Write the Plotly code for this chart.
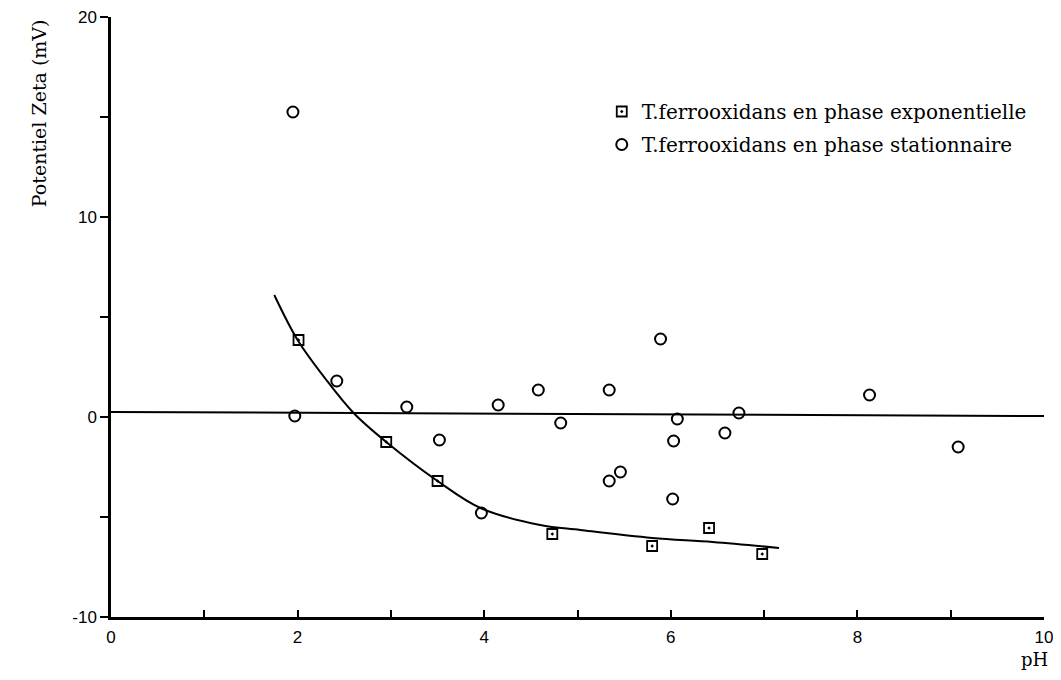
import plotly.graph_objects as go

# T. ferrooxidans, exponential phase (squares)
ph_expo = [2.01, 2.95, 3.50, 4.73, 5.80, 6.41, 6.98]
zeta_expo = [3.85, -1.25, -3.2, -5.85, -6.45, -5.55, -6.85]

# T. ferrooxidans, stationary phase (circles)
ph_stat = [1.95, 1.97, 2.42, 3.17, 3.52, 3.97, 4.15, 4.58, 4.82, 5.34, 5.34, 5.46,
           5.89, 6.07, 6.03, 6.02, 6.58, 6.73, 8.13, 9.08]
zeta_stat = [15.25, 0.05, 1.8, 0.5, -1.15, -4.8, 0.6, 1.35, -0.3, 1.35, -3.2, -2.75,
             3.9, -0.1, -1.2, -4.1, -0.8, 0.2, 1.1, -1.5]

# hand-drawn fitted curve through the squares
curve_x = [1.75, 2.0, 2.3, 2.6, 2.95, 3.5, 3.96, 4.6, 5.03, 5.8, 6.45, 7.16]
curve_y = [6.1, 3.85, 1.9, 0.2, -1.25, -3.2, -4.55, -5.4, -5.65, -6.05, -6.25, -6.55]

# near-horizontal line for the stationary phase
flat_x = [0, 10]
flat_y = [0.25, 0.05]

x_ticks = list(range(0, 11))
x_labels = [str(v) if v % 2 == 0 else "" for v in x_ticks]
y_ticks = [-10, -5, 0, 5, 10, 15, 20]
y_labels = ["-10", "", "0", "", "10", "", "20"]

fig = go.Figure()

fig.add_trace(go.Scatter(x=flat_x, y=flat_y, mode="lines",
                         line=dict(color="black", width=2), showlegend=False))
fig.add_trace(go.Scatter(x=curve_x, y=curve_y, mode="lines",
                         line=dict(color="black", width=2, shape="spline"),
                         showlegend=False))
fig.add_trace(go.Scatter(x=ph_expo, y=zeta_expo, mode="markers",
                         name="T.ferrooxidans en phase exponentielle",
                         legendgroup="a",
                         marker=dict(symbol="square-open-dot", size=10,
                                     color="black", line=dict(width=1.8))))
fig.add_trace(go.Scatter(x=ph_stat, y=zeta_stat, mode="markers",
                         name="T.ferrooxidans en phase stationnaire",
                         legendgroup="b",
                         marker=dict(symbol="circle-open", size=11,
                                     color="black", line=dict(width=2))))

# page body has an 8px margin, so the figure is a bit smaller than the window
fig.update_layout(
    width=1045, height=664,
    margin=dict(l=103, r=9, t=9, b=55, autoexpand=False),
    paper_bgcolor="white", plot_bgcolor="white",
    font=dict(family="Liberation Sans", size=17, color="black"),
    legend=dict(x=0.526, y=0.875, xanchor="left", yanchor="top",
                font=dict(family="DejaVu Serif", size=20),
                bgcolor="rgba(0,0,0,0)", tracegroupgap=4, itemwidth=30),
    xaxis=dict(range=[0, 10], tickvals=x_ticks, ticktext=x_labels,
               ticks="inside", ticklen=7, tickwidth=1.5, tickcolor="black",
               ticklabelstandoff=3, ticklabeloverflow="allow", automargin=False,
               showline=True, linewidth=2.5, linecolor="black",
               showgrid=False, zeroline=False),
    yaxis=dict(range=[-10, 20], tickvals=y_ticks, ticktext=y_labels,
               ticks="outside", ticklen=8, tickwidth=1.5, tickcolor="black",
               ticklabeloverflow="allow", automargin=False,
               showline=True, linewidth=2.5, linecolor="black",
               showgrid=False, zeroline=False),
    annotations=[
        dict(text="Potentiel Zeta (mV)", textangle=-90, xref="paper", yref="paper",
             x=-0.077, y=1.0, xanchor="center", yanchor="top", showarrow=False,
             font=dict(family="DejaVu Serif", size=19)),
        dict(text="pH", xref="paper", yref="paper", x=0.99, y=-0.0915,
             xanchor="center", yanchor="bottom", showarrow=False,
             font=dict(family="DejaVu Serif", size=18)),
    ],
)

fig.write_html("out.html")
